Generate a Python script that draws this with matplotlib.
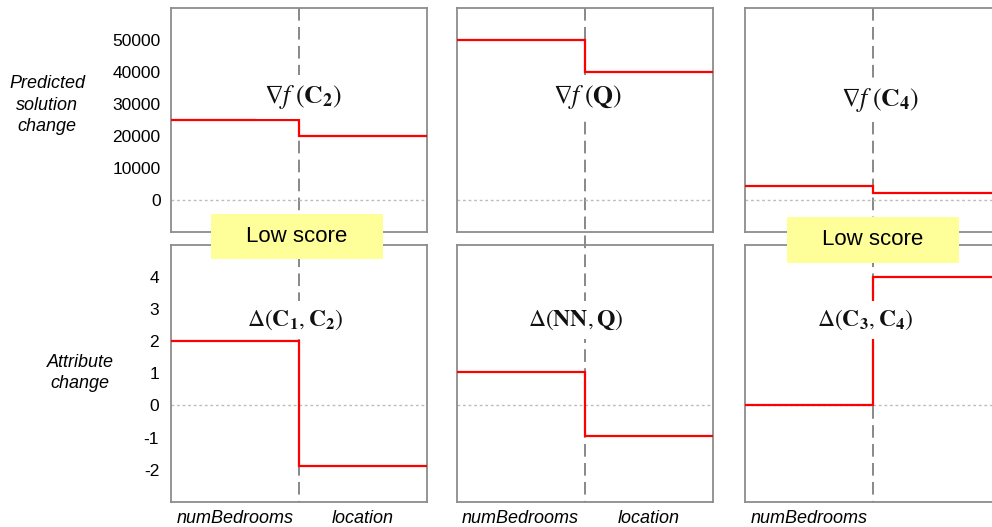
import matplotlib
matplotlib.use('Agg')
import matplotlib.pyplot as plt
from matplotlib.lines import Line2D
from matplotlib.patches import Rectangle

plt.rcParams['font.family'] = ['Liberation Sans', 'DejaVu Sans']
plt.rcParams['mathtext.fontset'] = 'stix'

# ---------------- data ----------------
features = ['numBedrooms', 'location']
pred_change = [[25000, 20000], [50000, 40000], [4500, 2300]]
attr_change = [[2.0, -1.9], [1.05, -0.95], [0.0, 4.0]]
top_titles = [r'$\nabla f\;(\mathbf{C}_\mathbf{2})$',
              r'$\nabla f\;(\mathbf{Q})$',
              r'$\nabla f\;(\mathbf{C}_\mathbf{4})$']
bottom_titles = [r'$\Delta(\mathbf{C}_\mathbf{1}, \mathbf{C}_\mathbf{2})$',
                 r'$\Delta(\mathbf{NN}, \mathbf{Q})$',
                 r'$\Delta(\mathbf{C}_\mathbf{3}, \mathbf{C}_\mathbf{4})$']
top_yticks = [0, 10000, 20000, 30000, 40000, 50000]
bottom_yticks = [-2, -1, 0, 1, 2, 3, 4]
top_ylim = (-10000, 60000)
bottom_ylim = (-3, 5)
low_score_text = 'Low score'
low_score_cols = [0, 2]
row_labels = ['Predicted\nsolution\nchange', 'Attribute\nchange']

# ---------------- layout (pixels) ----------------
W, H = 992, 527
fig = plt.figure(figsize=(W / 100, H / 100), dpi=100)

col_left = [171, 456.7, 745]
ax_w = 256
top_y0, top_y1 = 8.3, 232.3
bot_y0, bot_y1 = 245, 501.7
top_title_pos = [(0.515, 0.604), (0.512, 0.604), (0.527, 0.59)]
bot_title_pos = [(0.487, 0.708), (0.464, 0.708), (0.47, 0.708)]
top_title_size = 18.5
bot_title_size = 17
low_boxes = [(211, 214, 172, 45), (787, 216.7, 172, 46)]

spine_c = '#8c8c8c'
red = '#ff0000'


def px_rect(x0, y0, x1, y1):
    return [x0 / W, 1 - y1 / H, (x1 - x0) / W, (y1 - y0) / H]


edges = [0, 1, 2]
for i in range(3):
    ax_t = fig.add_axes(px_rect(col_left[i], top_y0, col_left[i] + ax_w, top_y1))
    ax_b = fig.add_axes(px_rect(col_left[i], bot_y0, col_left[i] + ax_w, bot_y1))
    for ax, vals, ylim, yt, title, tpos, tsize in (
            (ax_t, pred_change[i], top_ylim, top_yticks, top_titles[i], top_title_pos[i], top_title_size),
            (ax_b, attr_change[i], bottom_ylim, bottom_yticks, bottom_titles[i], bot_title_pos[i], bot_title_size)):
        ax.set_facecolor('none')
        ax.set_xlim(0, 2)
        ax.set_ylim(*ylim)
        ax.axhline(0, color='#bdbdbd', lw=1.0, ls=(0, (2, 2)), zorder=1)
        ax.stairs(vals, edges, color=red, lw=1.6, zorder=3, baseline=None)
        ax.text(tpos[0], tpos[1], title, transform=ax.transAxes, ha='center', va='center',
                fontsize=tsize, color='#111111', zorder=5,
                bbox=dict(boxstyle='square,pad=0.3', fc='white', ec='none'))
        for s in ax.spines.values():
            s.set_color(spine_c)
            s.set_linewidth(1.3)
        ax.tick_params(length=0)
        if i == 0:
            ax.set_yticks(yt)
            ax.set_yticklabels([str(v) for v in yt], fontsize=12.5)
        else:
            ax.set_yticks([])
    ax_t.tick_params(axis='y', pad=7.5)
    ax_b.tick_params(axis='y', pad=8.5)
    ax_t.set_xticks([])
    if i < 2:
        ax_b.set_xticks([0.5, 1.5])
        ax_b.set_xticklabels(features, fontsize=13, style='italic')
    else:
        ax_b.set_xticks([0.5])
        ax_b.set_xticklabels(features[:1], fontsize=13, style='italic')
    ax_b.tick_params(axis='x', pad=6)

    # continuous dashed divider through both rows
    xm = (col_left[i] + ax_w / 2) / W
    fig.add_artist(Line2D([xm, xm], [1 - top_y0 / H, 1 - bot_y1 / H], transform=fig.transFigure,
                          color='#7f7f7f', lw=1.3, ls=(0, (7, 3.5)), zorder=-1))

# row labels
fig.text(47 / W, 1 - 105 / H, row_labels[0], ha='center', va='center', fontsize=13,
         style='italic', linespacing=1.35)
fig.text(80 / W, 1 - 373 / H, row_labels[1], ha='center', va='center', fontsize=13,
         style='italic', linespacing=1.35)

# "Low score" callouts
for (x, y, w, h) in low_boxes:
    fig.add_artist(Rectangle((x / W, 1 - (y + h) / H), w / W, h / H, transform=fig.transFigure,
                             fc='#ffff99', ec='none', zorder=6))
    fig.text((x + w / 2) / W, 1 - (y + h / 2) / H, low_score_text, ha='center', va='center',
             fontsize=16, zorder=7)

fig.savefig('out.png', dpi=100)
